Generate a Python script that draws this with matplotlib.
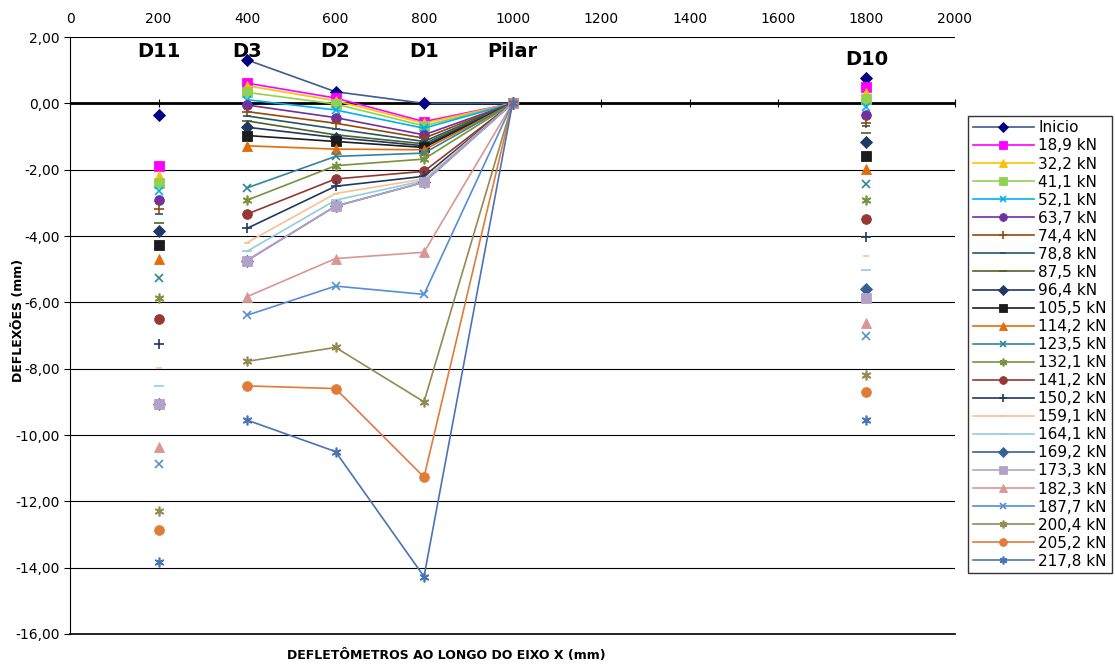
import numpy as np
import matplotlib.pyplot as plt
from matplotlib.ticker import FuncFormatter

# deflectometer positions (mm)
pos = [200, 400, 600, 800, 1000, 1800]
pos_names = ["D11", "D3", "D2", "D1", "Pilar", "D10"]

loads = ["Inicio", "18,9 kN", "32,2 kN", "41,1 kN", "52,1 kN", "63,7 kN",
         "74,4 kN", "78,8 kN", "87,5 kN", "96,4 kN", "105,5 kN", "114,2 kN",
         "123,5 kN", "132,1 kN", "141,2 kN", "150,2 kN", "159,1 kN", "164,1 kN",
         "169,2 kN", "173,3 kN", "182,3 kN", "187,7 kN", "200,4 kN", "205,2 kN",
         "217,8 kN"]

# deflections (mm) at D11, D3, D2, D1, Pilar, D10 for each load step
d11 = [-0.36, -1.88, -2.18, -2.40, -2.65, -2.92, -3.20, -3.35, -3.60, -3.84,
       -4.26, -4.70, -5.28, -5.86, -6.51, -7.26, -7.99, -8.52, -9.07, -9.07,
       -10.35, -10.88, -12.28, -12.85, -13.83]
d3 = [1.31, 0.61, 0.53, 0.33, 0.11, -0.05, -0.25, -0.38, -0.53, -0.72,
      -0.97, -1.28, -2.55, -2.92, -3.34, -3.77, -4.20, -4.46, -4.74, -4.74,
      -5.83, -6.39, -7.78, -8.52, -9.55]
d2 = [0.35, 0.16, 0.08, -0.02, -0.20, -0.43, -0.60, -0.77, -0.95, -1.03,
      -1.15, -1.38, -1.60, -1.88, -2.28, -2.50, -2.72, -2.92, -3.10, -3.10,
      -4.68, -5.51, -7.36, -8.60, -10.50]
d1 = [0.00, -0.55, -0.60, -0.68, -0.75, -0.95, -1.05, -1.15, -1.22, -1.28,
      -1.33, -1.40, -1.50, -1.68, -2.05, -2.20, -2.28, -2.33, -2.38, -2.38,
      -4.49, -5.76, -9.00, -11.27, -14.27]
pilar = [0.0] * 25
d10 = [0.76, 0.50, 0.30, 0.12, -0.10, -0.35, -0.58, -0.68, -0.90, -1.17,
       -1.60, -1.98, -2.42, -2.92, -3.48, -4.02, -4.60, -5.03, -5.61, -5.86,
       -6.61, -7.01, -8.20, -8.70, -9.54]

star = (6, 2, 0)
styles = [
    ("#000080", "#3B5C8E", "D", 6), ("#FF00FF", "#FF00FF", "s", 7),
    ("#FFC000", "#FFC000", "^", 7), ("#92D050", "#92D050", "s", 7),
    ("#00B0F0", "#00B0F0", "x", 6), ("#7030A0", "#7030A0", "o", 7),
    ("#984807", "#984807", "+", 7), ("#215968", "#215968", "_", 6),
    ("#4F6228", "#4F6228", "_", 7), ("#1F3864", "#1F3864", "D", 6),
    ("#1C1C1C", "#1C1C1C", "s", 7), ("#E46C0A", "#E46C0A", "^", 7),
    ("#31859C", "#31859C", "x", 6), ("#77933C", "#77933C", star, 7),
    ("#953735", "#953735", "o", 7), ("#1F3A60", "#1F3A60", "+", 7),
    ("#FAC090", "#FAC090", "_", 5), ("#93CDDD", "#93CDDD", "_", 7),
    ("#376092", "#376092", "D", 6), ("#B3A2C7", "#B3A2C7", "s", 7),
    ("#D99694", "#D99694", "^", 7), ("#558ED5", "#558ED5", "x", 6),
    ("#948A54", "#948A54", star, 7), ("#E07B39", "#E07B39", "o", 7),
    ("#4A73B5", "#4A73B5", star, 7),
]

fig = plt.figure(figsize=(11.15, 6.68), dpi=100)
ax = fig.add_axes([0.0628, 0.0509, 0.7937, 0.8937])

for i in range(len(loads)):
    mc, lc, m, ms = styles[i]
    y = [d11[i], d3[i], d2[i], d1[i], pilar[i], d10[i]]
    lw_m = 1.2 if m in ("x", "+", "_", star) else 0.6
    # line only between D3 and Pilar
    ax.plot(pos[1:5], y[1:5], color=lc, lw=1.2, marker=m, ms=ms, mfc=mc,
            mec=mc, mew=lw_m, label=loads[i])
    ax.plot([pos[0], pos[5]], [y[0], y[5]], ls="none", marker=m, ms=ms,
            mfc=mc, mec=mc, mew=lw_m)

# position labels
lab_y = [1.55, 1.55, 1.55, 1.55, 1.55, 1.31]
for p, n, ly in zip(pos, pos_names, lab_y):
    ax.text(p, ly, n, ha="center", va="center", fontsize=14, fontweight="bold")

ax.set_xlim(0, 2000)
ax.set_ylim(-16, 2)
ax.set_yticks(np.arange(-16, 2.1, 2))
ax.yaxis.set_major_formatter(FuncFormatter(lambda v, p: f"{v:.2f}".replace(".", ",")))
ax.tick_params(axis="y", labelsize=10, length=4)
ax.grid(axis="y", color="black", lw=0.8)
ax.axhline(0, color="black", lw=2, zorder=1)

# x axis crossing at zero, labels on top
ax.spines["top"].set_visible(False)
ax.spines["right"].set_visible(False)
ax.spines["bottom"].set_position(("data", 0))
ax.spines["bottom"].set_visible(False)
ax.set_xticks(np.arange(0, 2001, 200))
ax.tick_params(axis="x", direction="inout", length=6, labelbottom=False)
top = ax.secondary_xaxis("top")
top.set_xticks(np.arange(0, 2001, 200))
top.tick_params(length=0, labelsize=10, pad=8)
top.spines["top"].set_visible(False)
ax.axhline(-16, color="black", lw=1.2, clip_on=False)

fig.text(0.017, 0.52, "DEFLEXÕES (mm)", rotation=90, ha="center",
         va="center", fontsize=9, fontweight="bold")
fig.text(0.4, 0.018, "DEFLETÔMETROS AO LONGO DO EIXO X (mm)", ha="center",
         va="center", fontsize=9, fontweight="bold")

leg = ax.legend(loc="upper left", bbox_to_anchor=(1.0147, 0.868), fontsize=11,
                frameon=True, fancybox=False, edgecolor="black",
                handlelength=4.0, labelspacing=0.2, borderpad=0.3,
                handletextpad=0.3, markerscale=0.8, borderaxespad=0)
leg.get_frame().set_linewidth(1.0)

plt.savefig("out.png", dpi=100)
